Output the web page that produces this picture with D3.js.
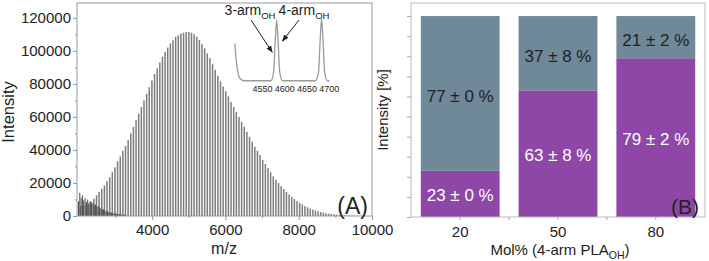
<!DOCTYPE html>
<html>
<head>
<meta charset="utf-8">
<script src="https://cdn.jsdelivr.net/npm/d3@7"></script>
<style>
  html, body { margin: 0; padding: 0; background: #fff; }
  svg { display: block; font-family: "Liberation Sans", Arial, sans-serif; }
</style>
</head>
<body>
<div id="chart"></div>
<script>
// ---- Panel A data: MALDI spectrum, peaks ----
const peakMz = [2050, 2122, 2194, 2266, 2338, 2410, 2482, 2554, 2626, 2698, 2770, 2842, 2914, 2986,
  3058, 3130, 3202, 3274, 3346, 3418, 3490, 3562, 3634, 3706, 3778, 3850, 3922, 3994, 4066, 4138,
  4210, 4282, 4354, 4426, 4498, 4570, 4642, 4714, 4786, 4858, 4930, 5002, 5074, 5146, 5218, 5290,
  5362, 5434, 5506, 5578, 5650, 5722, 5794, 5866, 5938, 6010, 6082, 6154, 6226, 6298, 6370, 6442,
  6514, 6586, 6658, 6730, 6802, 6874, 6946, 7018, 7090, 7162, 7234, 7306, 7378, 7450, 7522, 7594,
  7666, 7738, 7810, 7882, 7954, 8026, 8098, 8170, 8242, 8314, 8386, 8458, 8530, 8602, 8674, 8746,
  8818, 8890, 8962, 9034, 9106, 9178, 9250, 9322, 9394, 9466, 9538, 9610];
// intensity (x1000)
const peakInt = [6, 6, 6.5, 7, 8.5, 10.5, 12.5, 14.5, 16.5, 18.5, 21, 23.5, 26.5, 29.5,
  33, 36, 39.5, 42.5, 46, 50, 54, 58, 62, 66, 70, 74, 78, 82, 86, 89.5,
  93, 96.5, 99.5, 102, 104.5, 106.5, 108.5, 109.5, 110.5, 111, 111.5, 111.5, 111, 110, 108.5, 106.5,
  104, 101.5, 98.5, 95.5, 92, 88.5, 85, 81.5, 78.5, 75.5, 72.5, 69, 66, 63, 60, 57,
  54, 51, 48, 45, 42, 39.5, 37, 34, 31.5, 29, 26.5, 24, 22, 20, 18, 16.3,
  14.6, 13, 11.6, 10.3, 9.1, 8, 7, 6.1, 5.3, 4.6, 4, 3.4, 2.9, 2.4, 2, 1.7,
  1.4, 1.2, 1, 0.8, 0.65, 0.5, 0.4, 0.3, 0.25, 0.2, 0.15, 0.1];
// low-mass background peaks (darker)
const lowMz = [1990, 2026, 2062, 2098, 2134, 2170, 2206, 2242, 2278, 2314, 2350, 2386, 2422, 2458,
  2494, 2530, 2566, 2602, 2638, 2674, 2710, 2746, 2782, 2818, 2854, 2890, 2926, 2962, 2998, 3034,
  3070, 3106, 3142, 3178, 3214, 3250];
const lowInt = [9, 14, 11, 12.5, 9.5, 11, 8.5, 10, 8, 9, 7, 8, 6.5, 7,
  5.5, 6, 4.5, 5, 4, 4, 3.2, 3.2, 2.6, 2.6, 2.1, 2.1, 1.7, 1.7, 1.4, 1.4,
  1.2, 1.2, 1, 1, 0.8, 0.8];
const yTicksA = [0, 20000, 40000, 60000, 80000, 100000, 120000];
const xTicksA = [4000, 6000, 8000, 10000];

// inset trace (m/z, relative intensity)
const insetMz  = [4489, 4492, 4496, 4500, 4510, 4570, 4576, 4580, 4583, 4586, 4590, 4596,
  4670, 4677, 4681, 4684, 4687, 4691, 4697, 4702];
const insetInt = [0.62, 0.35, 0.15, 0.06, 0.02, 0.02, 0.15, 0.7, 1.0, 0.7, 0.15, 0.02,
  0.02, 0.15, 0.7, 1.02, 0.7, 0.15, 0.02, 0.02];
const insetTicks = [4550, 4600, 4650, 4700];

// ---- Panel B data ----
const molPct = ["20", "50", "80"];
const fourArm = [23, 63, 79];
const threeArm = [77, 37, 21];
const fourErr = [0, 8, 2];
const threeErr = [0, 8, 2];

const W = 709, H = 261;
const svg = d3.select("#chart").append("svg")
  .attr("width", W)
  .attr("height", H);

// ================= Panel A =================
const xA = d3.scaleLinear().domain([1950, 10000]).range([77, 372]);
const yA = d3.scaleLinear().domain([0, 129000]).range([216, 3]);

const gA = svg.append("g");

// peaks
gA.append("g").selectAll("line")
  .data(peakMz.map((m, i) => ({ m, v: peakInt[i] * 1000 })))
  .enter().append("line")
  .attr("x1", d => xA(d.m)).attr("x2", d => xA(d.m))
  .attr("y1", yA(0)).attr("y2", d => yA(d.v))
  .attr("stroke", "#7c7c7c")
  .attr("stroke-width", 1.5);

gA.append("g").selectAll("line")
  .data(lowMz.map((m, i) => ({ m, v: lowInt[i] * 1000 })))
  .enter().append("line")
  .attr("x1", d => xA(d.m)).attr("x2", d => xA(d.m))
  .attr("y1", yA(0)).attr("y2", d => yA(d.v))
  .attr("stroke", "#4a4a4a")
  .attr("stroke-width", 1);

// frame
gA.append("rect")
  .attr("x", 77).attr("y", 3)
  .attr("width", 372 - 77).attr("height", 216 - 3)
  .attr("fill", "none").attr("stroke", "#999").attr("stroke-width", 1);

// axes
const axYA = gA.append("g").attr("transform", "translate(77,0)")
  .call(d3.axisLeft(yA).tickValues(yTicksA).tickSize(4).tickPadding(2).tickFormat(d3.format("d")));
const axYAm = gA.append("g").attr("transform", "translate(77,0)")
  .call(d3.axisLeft(yA).tickValues(d3.range(10000, 129000, 20000)).tickSize(2).tickFormat(""));
const axXA = gA.append("g").attr("transform", "translate(0,216)")
  .call(d3.axisBottom(xA).tickValues(xTicksA).tickSize(4).tickPadding(4).tickFormat(d3.format("d")));
const axXAm = gA.append("g").attr("transform", "translate(0,216)")
  .call(d3.axisBottom(xA).tickValues([3000, 5000, 7000, 9000]).tickSize(2).tickFormat(""));

[axYA, axYAm, axXA, axXAm].forEach(a => {
  a.select(".domain").remove();
  a.selectAll(".tick line").attr("stroke", "#999");
  a.selectAll(".tick text").attr("fill", "#222").style("font-size", "15px")
    .style("font-family", "Liberation Sans, Arial, sans-serif");
});

gA.append("text")
  .attr("transform", "translate(14,112) rotate(-90)")
  .attr("text-anchor", "middle")
  .attr("fill", "#222").style("font-size", "16.5px")
  .text("Intensity");

gA.append("text")
  .attr("x", 224).attr("y", 254)
  .attr("text-anchor", "middle")
  .attr("fill", "#222").style("font-size", "16px")
  .text("m/z");

gA.append("text")
  .attr("x", 368).attr("y", 214)
  .attr("text-anchor", "end")
  .attr("fill", "#222").style("font-size", "23px")
  .text("(A)");

// inset
const xI = d3.scaleLinear().domain([4550, 4700]).range([262, 328.7]);
const yI = d3.scaleLinear().domain([0, 1]).range([82, 20]);

gA.append("path")
  .datum(insetMz.map((m, i) => [m, insetInt[i]]))
  .attr("d", d3.line().x(d => xI(d[0])).y(d => yI(d[1])).curve(d3.curveMonotoneX))
  .attr("fill", "none")
  .attr("stroke", "#9a9a9a")
  .attr("stroke-width", 1.3);

const axI = gA.append("g").attr("transform", "translate(0,84)")
  .call(d3.axisBottom(xI).tickValues(insetTicks).tickSize(0).tickPadding(2).tickFormat(d3.format("d")));
axI.select(".domain").remove();
axI.selectAll(".tick text").attr("fill", "#222").style("font-size", "9px")
  .style("font-family", "Liberation Sans, Arial, sans-serif");

// arrow heads
const defs = svg.append("defs");
defs.append("marker")
  .attr("id", "arr")
  .attr("viewBox", "0 0 10 10")
  .attr("refX", 9).attr("refY", 5)
  .attr("markerWidth", 7).attr("markerHeight", 7)
  .attr("orient", "auto")
  .append("path").attr("d", "M0,1 L10,5 L0,9 Z").attr("fill", "#222");

function armLabel(x, y, main) {
  const t = gA.append("text").attr("x", x).attr("y", y)
    .attr("text-anchor", "middle").attr("fill", "#222").style("font-size", "14px");
  t.append("tspan").text(main);
  t.append("tspan").attr("dy", 4).style("font-size", "9.5px").text("OH");
}
armLabel(250, 15, "3-arm");
armLabel(304, 15, "4-arm");

gA.append("line")
  .attr("x1", 251).attr("y1", 20).attr("x2", xI(4573)).attr("y2", yI(0.48))
  .attr("stroke", "#222").attr("stroke-width", 1).attr("marker-end", "url(#arr)");
gA.append("line")
  .attr("x1", 299).attr("y1", 20).attr("x2", xI(4596)).attr("y2", yI(0.66))
  .attr("stroke", "#222").attr("stroke-width", 1).attr("marker-end", "url(#arr)");

// ================= Panel B =================
const xB = d3.scaleBand().domain(molPct).range([411, 705]).paddingInner(0.194).paddingOuter(0.1);
const yB = d3.scaleLinear().domain([0, 106.5]).range([217, 3]);

const gB = svg.append("g");

const rows = molPct.map((m, i) => ({ m, four: fourArm[i], three: threeArm[i], e4: fourErr[i], e3: threeErr[i] }));

gB.selectAll("rect.four")
  .data(rows).enter().append("rect")
  .attr("class", "four")
  .attr("x", d => xB(d.m)).attr("width", xB.bandwidth())
  .attr("y", d => yB(d.four)).attr("height", d => yB(0) - yB(d.four))
  .attr("fill", "#8e47a7");

gB.selectAll("rect.three")
  .data(rows).enter().append("rect")
  .attr("class", "three")
  .attr("x", d => xB(d.m)).attr("width", xB.bandwidth())
  .attr("y", d => yB(d.four + d.three)).attr("height", d => yB(d.four) - yB(d.four + d.three))
  .attr("fill", "#6f8999");

gB.selectAll("text.four")
  .data(rows).enter().append("text")
  .attr("x", d => xB(d.m) + xB.bandwidth() / 2)
  .attr("y", d => yB(d.four / 2) + 7)
  .attr("text-anchor", "middle")
  .attr("fill", "#fff").style("font-size", "17px")
  .text(d => `${d.four} ± ${d.e4} %`);

gB.selectAll("text.three")
  .data(rows).enter().append("text")
  .attr("x", d => xB(d.m) + xB.bandwidth() / 2)
  .attr("y", d => yB(d.four + d.three / 2) + 9)
  .attr("text-anchor", "middle")
  .attr("fill", "#222").style("font-size", "17px")
  .text(d => `${d.three} ± ${d.e3} %`);

gB.append("rect")
  .attr("x", 411).attr("y", 3)
  .attr("width", 705 - 411).attr("height", 217 - 3)
  .attr("fill", "none").attr("stroke", "#bbb").attr("stroke-width", 1);

const axYB = gB.append("g").attr("transform", "translate(411,0)")
  .call(d3.axisLeft(yB).tickValues(d3.range(0, 101, 10)).tickSize(4).tickFormat(""));
const axXB = gB.append("g").attr("transform", "translate(0,217)")
  .call(d3.axisBottom(xB).tickSize(3).tickPadding(6));
const midTicks = molPct.slice(1).map((m, i) => (xB(molPct[i]) + xB.bandwidth() + xB(m)) / 2);
gB.append("g").selectAll("line")
  .data(midTicks).enter().append("line")
  .attr("x1", d => d).attr("x2", d => d)
  .attr("y1", 217).attr("y2", 220)
  .attr("stroke", "#aaa");

[axYB, axXB].forEach(a => {
  a.select(".domain").remove();
  a.selectAll(".tick line").attr("stroke", "#aaa");
  a.selectAll(".tick text").attr("fill", "#222").style("font-size", "15px")
    .style("font-family", "Liberation Sans, Arial, sans-serif");
});

gB.append("text")
  .attr("transform", "translate(388,110) rotate(-90)")
  .attr("text-anchor", "middle")
  .attr("fill", "#222").style("font-size", "15px")
  .text("Intensity [%]");

const xl = gB.append("text")
  .attr("x", 560).attr("y", 255)
  .attr("text-anchor", "middle")
  .attr("fill", "#222").style("font-size", "15px");
xl.append("tspan").text("Mol% (4-arm PLA");
xl.append("tspan").attr("dy", 4).style("font-size", "10.5px").text("OH");
xl.append("tspan").attr("dy", -4).text(")");

gB.append("text")
  .attr("x", 699).attr("y", 214)
  .attr("text-anchor", "end")
  .attr("fill", "#222").style("font-size", "21px")
  .text("(B)");
</script>
</body>
</html>
